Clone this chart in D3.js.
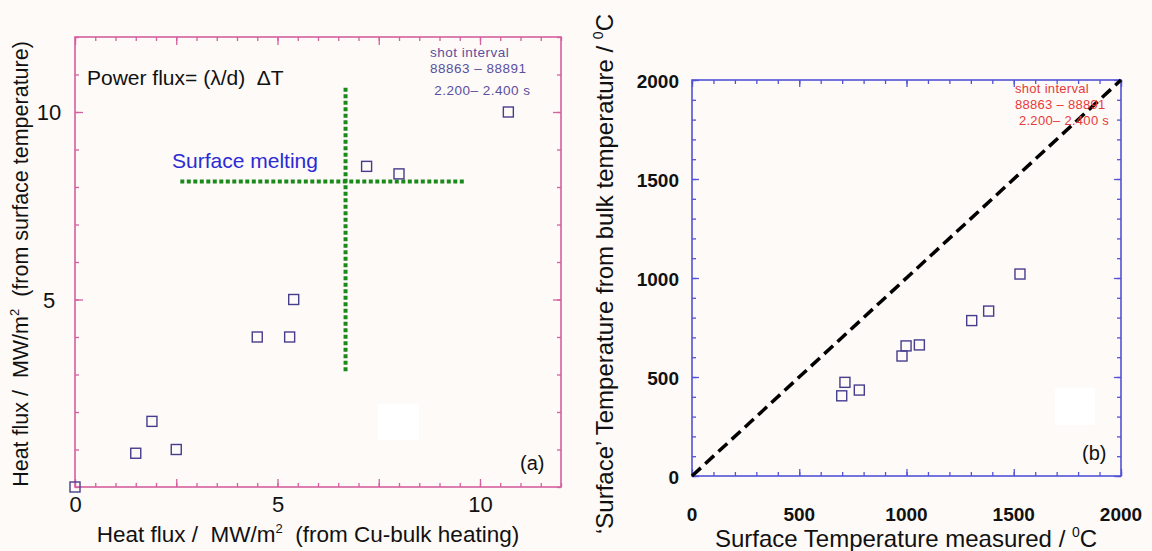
<!DOCTYPE html>
<html>
<head>
<style>
body { margin: 0; background: #fdfaf8; }
text { font-family: "Liberation Sans", Arial, sans-serif; }
</style>
</head>
<body>
<script src="https://cdn.jsdelivr.net/npm/d3@7"></script>
<script>
// panel (a): heat flux, bulk vs surface
var fluxBulk    = [0, 1.5, 1.9, 2.5, 4.5, 5.3, 5.4, 7.2, 8.0, 10.7];
var fluxSurface = [0, 0.9, 1.75, 1.0, 4.0, 4.0, 5.0, 8.55, 8.35, 10.0];
var fluxTicks = [0, 5, 10];
// surface melting guide lines
var meltFlux = 8.15, meltSpanX = [2.6, 9.65];
var meltBulk = 6.68, meltSpanY = [3.05, 10.65];

// panel (b): temperatures
var tempMeasured = [698, 713, 780, 979, 998, 1060, 1304, 1383, 1529];
var tempBulk     = [405, 473, 434, 606, 657, 662, 785, 833, 1020];
var tempTicks = [0, 500, 1000, 1500, 2000];
var diagonal = [0, 2000];

var shotText = ["shot interval", "88863 \u2013 88891", " 2.200\u2013 2.400 s"];

var svg = d3.select("body").append("svg")
    .attr("width", 1152)
    .attr("height", 551);

svg.append("rect").attr("width", 1152).attr("height", 551).attr("fill", "#fdfaf8");

var xa = d3.scaleLinear().domain([0, 12]).range([75, 561]);
var ya = d3.scaleLinear().domain([0, 12]).range([487, 37]);
var xb = d3.scaleLinear().domain([0, 2000]).range([692, 1121]);
var yb = d3.scaleLinear().domain([0, 2000]).range([476, 80]);

// inward ticks on all four sides
function frameTicks(x, y, xv, yv, len, color) {
    var g = svg.append("g");
    g.append("g").attr("transform", "translate(0," + y.range()[0] + ")")
        .call(d3.axisBottom(x).tickValues(xv).tickSize(-len).tickFormat(""));
    g.append("g").attr("transform", "translate(0," + y.range()[1] + ")")
        .call(d3.axisTop(x).tickValues(xv).tickSize(-len).tickFormat(""));
    g.append("g").attr("transform", "translate(" + x.range()[0] + ",0)")
        .call(d3.axisLeft(y).tickValues(yv).tickSize(-len).tickFormat(""));
    g.append("g").attr("transform", "translate(" + x.range()[1] + ",0)")
        .call(d3.axisRight(y).tickValues(yv).tickSize(-len).tickFormat(""));
    g.selectAll(".domain").remove();
    g.selectAll("line").attr("stroke", color).attr("stroke-width", 1.3);
}

function frame(x, y, color) {
    svg.append("rect")
        .attr("x", x.range()[0]).attr("y", y.range()[1])
        .attr("width", x.range()[1] - x.range()[0])
        .attr("height", y.range()[0] - y.range()[1])
        .attr("fill", "none").attr("stroke", color).attr("stroke-width", 1.6);
}

// whitish patches in the original scan
svg.append("rect").attr("x", 378).attr("y", 404).attr("width", 41).attr("height", 36).attr("fill", "#ffffff");
svg.append("rect").attr("x", 1055).attr("y", 388).attr("width", 40).attr("height", 37).attr("fill", "#ffffff");

// ---------- panel (a) ----------
var pink = "#d4609e";
frameTicks(xa, ya, d3.range(0, 12.01, 0.5), d3.range(0, 12.01, 1), 4, pink);
frameTicks(xa, ya, d3.range(0, 12.01, 2.5), [5, 10], 8, pink);
frame(xa, ya, pink);

var green = "#1b8a1b";
svg.append("line")
    .attr("x1", xa(meltSpanX[0])).attr("x2", xa(meltSpanX[1]))
    .attr("y1", ya(meltFlux)).attr("y2", ya(meltFlux))
    .attr("stroke", green).attr("stroke-width", 4).attr("stroke-dasharray", "4 2.5");
svg.append("line")
    .attr("x1", xa(meltBulk)).attr("x2", xa(meltBulk))
    .attr("y1", ya(meltSpanY[1])).attr("y2", ya(meltSpanY[0]))
    .attr("stroke", green).attr("stroke-width", 4).attr("stroke-dasharray", "4 2.5");

svg.append("g").selectAll("rect")
    .data(fluxBulk)
    .enter().append("rect")
    .attr("x", function (d) { return xa(d) - 5; })
    .attr("y", function (d, i) { return ya(fluxSurface[i]) - 5; })
    .attr("width", 10).attr("height", 10)
    .attr("fill", "none").attr("stroke", "#463d8c").attr("stroke-width", 1.4);

// tick labels
svg.append("g").attr("transform", "translate(0,487)")
    .call(d3.axisBottom(xa).tickValues(fluxTicks).tickSize(0).tickPadding(9).tickFormat(d3.format("d")))
    .call(function (g) { g.select(".domain").remove(); })
    .selectAll("text").attr("font-size", 22).attr("fill", "#111")
    .attr("font-family", "Liberation Sans, Arial, sans-serif");
svg.append("g").selectAll("text")
    .data(fluxTicks.slice(1))
    .enter().append("text")
    .attr("x", 49).attr("y", function (d) { return ya(d) + 8; })
    .attr("text-anchor", "middle").attr("font-size", 22).attr("fill", "#111")
    .text(function (d) { return d; });

var xl = svg.append("text").attr("x", 308).attr("y", 542)
    .attr("text-anchor", "middle").attr("font-size", 22.5).attr("fill", "#111")
    .attr("xml:space", "preserve");
xl.append("tspan").text("Heat flux /  MW/m");
xl.append("tspan").attr("font-size", 13).attr("dy", -9).text("2");
xl.append("tspan").attr("dy", 9).text("  (from Cu-bulk heating)");

var yl = svg.append("text").attr("transform", "translate(28,264) rotate(-90)")
    .attr("text-anchor", "middle").attr("font-size", 21.5).attr("fill", "#111")
    .attr("xml:space", "preserve");
yl.append("tspan").text("Heat flux /  MW/m");
yl.append("tspan").attr("font-size", 13).attr("dy", -9).text("2");
yl.append("tspan").attr("dy", 9).text("  (from surface temperature)");

svg.append("text").attr("x", 87).attr("y", 85).attr("font-size", 21).attr("fill", "#111")
    .attr("xml:space", "preserve")
    .text("Power flux= (\u03bb/d)  \u0394T");
svg.append("text").attr("x", 172).attr("y", 168).attr("font-size", 21).attr("fill", "#2b2bd4")
    .text("Surface melting");
svg.append("text").attr("x", 520).attr("y", 470).attr("font-size", 20).attr("fill", "#111").text("(a)");

svg.append("g").selectAll("text")
    .data(shotText)
    .enter().append("text")
    .attr("x", 430)
    .attr("y", function (d, i) { return [57, 73, 95][i]; })
    .attr("font-family", "DejaVu Sans, sans-serif")
    .attr("font-size", 13.5).attr("letter-spacing", 0.5).attr("fill", "#5b4f9e")
    .attr("xml:space", "preserve")
    .text(function (d) { return d; });

// ---------- panel (b) ----------
var blue = "#5353d6";
frameTicks(xb, yb, d3.range(0, 2001, 100), d3.range(0, 2001, 100), 4, blue);
frameTicks(xb, yb, tempTicks, tempTicks, 7, blue);
frame(xb, yb, blue);

svg.append("line")
    .attr("x1", xb(diagonal[0])).attr("y1", yb(diagonal[0]))
    .attr("x2", xb(diagonal[1])).attr("y2", yb(diagonal[1]))
    .attr("stroke", "#000").attr("stroke-width", 3.5).attr("stroke-dasharray", "12 6");

svg.append("g").selectAll("rect")
    .data(tempMeasured)
    .enter().append("rect")
    .attr("x", function (d) { return xb(d) - 5; })
    .attr("y", function (d, i) { return yb(tempBulk[i]) - 5; })
    .attr("width", 10).attr("height", 10)
    .attr("fill", "none").attr("stroke", "#463d8c").attr("stroke-width", 1.4);

svg.append("g").selectAll("text")
    .data(tempTicks)
    .enter().append("text")
    .attr("x", function (d) { return xb(d); }).attr("y", 521)
    .attr("text-anchor", "middle").attr("font-size", 19).attr("font-weight", "bold").attr("fill", "#111")
    .text(function (d) { return d; });
svg.append("g").selectAll("text")
    .data(tempTicks)
    .enter().append("text")
    .attr("x", 679).attr("y", function (d) { return yb(d) + 8; })
    .attr("text-anchor", "end").attr("font-size", 19).attr("font-weight", "bold").attr("fill", "#111")
    .text(function (d) { return d; });

var xl2 = svg.append("text").attr("x", 906).attr("y", 547)
    .attr("text-anchor", "middle").attr("font-size", 24).attr("fill", "#111");
xl2.append("tspan").text("Surface Temperature measured / ");
xl2.append("tspan").attr("font-size", 14).attr("dy", -10).text("0");
xl2.append("tspan").attr("dy", 10).text("C");

var yl2 = svg.append("text").attr("transform", "translate(613,274) rotate(-90)")
    .attr("text-anchor", "middle").attr("font-size", 24).attr("fill", "#111");
yl2.append("tspan").text("\u2018Surface\u2019 Temperature from bulk temperature / ");
yl2.append("tspan").attr("font-size", 14).attr("dy", -10).text("0");
yl2.append("tspan").attr("dy", 10).text("C");

svg.append("text").attr("x", 1082).attr("y", 460).attr("font-size", 20).attr("fill", "#111").text("(b)");

svg.append("g").selectAll("text")
    .data(shotText)
    .enter().append("text")
    .attr("x", 1015)
    .attr("y", function (d, i) { return [93, 109, 125][i]; })
    .attr("font-family", "DejaVu Sans, sans-serif")
    .attr("font-size", 13).attr("letter-spacing", 0.3).attr("fill", "#e83a3a")
    .attr("xml:space", "preserve")
    .text(function (d) { return d; });
</script>
</body>
</html>
